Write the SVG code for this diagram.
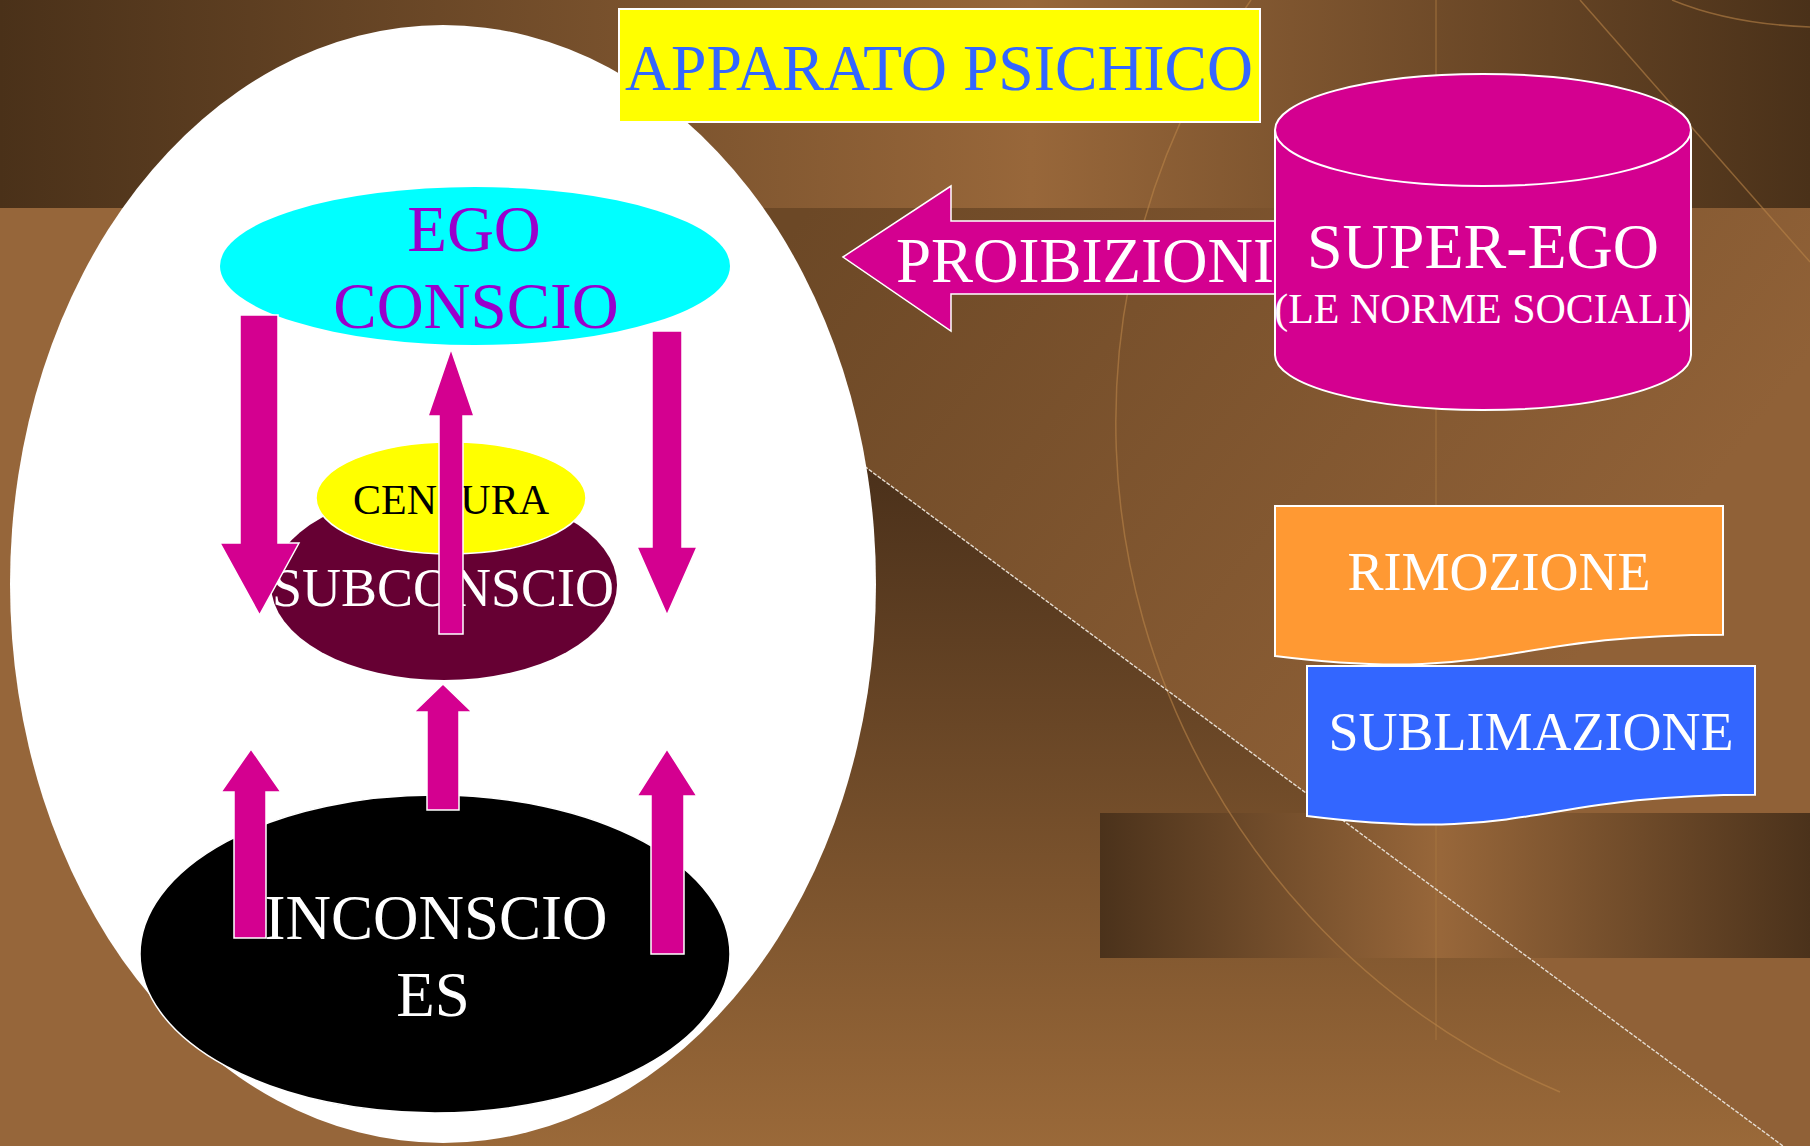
<svg xmlns="http://www.w3.org/2000/svg" width="1810" height="1146" viewBox="0 0 1810 1146">
<defs>
<linearGradient id="bandGrad" gradientUnits="userSpaceOnUse" x1="0" y1="0" x2="1810" y2="0">
<stop offset="0" stop-color="#4A3119"/><stop offset="0.57" stop-color="#98673A"/><stop offset="1" stop-color="#4A3119"/>
</linearGradient>
<linearGradient id="lowGrad" gradientUnits="userSpaceOnUse" x1="800" y1="220" x2="1500" y2="760">
<stop offset="0" stop-color="#6C4826"/><stop offset="1" stop-color="#906137"/>
</linearGradient>
<linearGradient id="triGrad" gradientUnits="userSpaceOnUse" x1="0" y1="460" x2="0" y2="1146">
<stop offset="0" stop-color="#4A301A"/><stop offset="1" stop-color="#9A6939"/>
</linearGradient>
<linearGradient id="rectGrad" gradientUnits="userSpaceOnUse" x1="1100" y1="0" x2="1810" y2="0">
<stop offset="0" stop-color="#4B321B"/><stop offset="0.48" stop-color="#98673A"/><stop offset="1" stop-color="#4B321B"/>
</linearGradient>
</defs>
<style>
.t{font-family:"Liberation Serif","Times New Roman",serif;text-anchor:middle}
.arrow{fill:#D40090;stroke:#FFFFFF;stroke-width:1.5}
.deco{fill:none;stroke:#B98348;stroke-width:1.5;opacity:0.6}
</style>

<!-- background -->
<g id="background">
<rect x="0" y="0" width="1810" height="1146" fill="#96663A"/>
<rect x="0" y="0" width="1810" height="208" fill="url(#bandGrad)"/>
<polygon points="443,208 1810,208 1810,1146 443,1146" fill="url(#lowGrad)"/>
<polygon points="650,308 1783,1146 443,1146 443,308" fill="url(#triGrad)"/>
<rect x="1100" y="813" width="710" height="145" fill="url(#rectGrad)"/>
<line x1="1436" y1="0" x2="1436" y2="1040" stroke="#A8763F" stroke-width="2" opacity="0.45"/>
<path class="deco" d="M1251,0 A727,727 0 0 0 1560,1092"/>
<path class="deco" d="M1672,0 Q1730,24 1810,27"/>
<line class="deco" x1="1580" y1="0" x2="1810" y2="262"/>
<line x1="860" y1="463" x2="1783" y2="1146" stroke="#E6DDD2" stroke-width="1.4" stroke-dasharray="4 1.5"/>
</g>

<g id="apparato">
<ellipse cx="443" cy="584" rx="433" ry="559" fill="#FFFFFF"/>
</g>

<g id="ego">
<ellipse cx="475" cy="266" rx="255" ry="79" fill="#00FFFF"/>
<text class="t" x="474" y="251" font-size="65" fill="#9900CC">EGO</text>
<text class="t" x="476" y="328" font-size="65" fill="#9900CC">CONSCIO</text>
</g>

<g id="subconscio">
<ellipse cx="444" cy="585" rx="173" ry="95" fill="#660033"/>
<text class="t" x="443" y="606" font-size="54" fill="#FFFFFF">SUBCONSCIO</text>
</g>

<g id="censura">
<ellipse cx="451" cy="498" rx="135" ry="56" fill="#FFFF00" stroke="#FFFFFF" stroke-width="1.5"/>
<text class="t" x="451" y="514" font-size="42" fill="#000000">CENSURA</text>
</g>

<g id="inconscio">
<ellipse cx="435" cy="954" rx="295" ry="159" fill="#000000" stroke="#FFFFFF" stroke-width="1.5"/>
<text class="t" x="436" y="939" font-size="63" fill="#FFFFFF">INCONSCIO</text>
<text class="t" x="433" y="1016" font-size="63" fill="#FFFFFF">ES</text>
</g>

<g id="connectors">
<path class="arrow" d="M240,315 H278 V543 H299 L259.5,615 L220,543 H240 Z"/>
<path class="arrow" d="M652,331 H682 V547 H697 L667,615 L637,547 H652 Z"/>
<path class="arrow" d="M451,349 L474,416 H463 V634 H439 V416 H428 Z"/>
<path class="arrow" d="M443,684 L472,712 H459 V810 H427 V712 H414 Z"/>
<path class="arrow" d="M251,749 L281,792 H266 V938 H234 V792 H221 Z"/>
<path class="arrow" d="M667,749 L697,796 H684 V954 H651 V796 H637 Z"/>
<g id="proibizioni">
<path class="arrow" d="M843,257 L951,186 V221 H1280 V294 H951 V331 Z" stroke-width="2"/>
<text x="896" y="282" font-size="63" fill="#FFFFFF" font-family="Liberation Serif, Times New Roman, serif">PROIBIZIONI</text>
</g>
</g>

<g id="titolo">
<rect x="619" y="9" width="641" height="113" fill="#FFFF00" stroke="#FFFFFF" stroke-width="2"/>
<text class="t" x="939" y="90" font-size="66" fill="#3366FF" textLength="628" lengthAdjust="spacingAndGlyphs">APPARATO PSICHICO</text>
</g>

<g id="superego">
<path d="M1275,130 A208,56 0 0 1 1691,130 V355 A208,55 0 0 1 1275,355 Z" fill="#D40090" stroke="#FFFFFF" stroke-width="2"/>
<path d="M1275,130 A208,56 0 0 0 1691,130" fill="none" stroke="#FFFFFF" stroke-width="2"/>
<text class="t" x="1483" y="268" font-size="64" fill="#FFFFFF">SUPER-EGO</text>
<text class="t" x="1483" y="323" font-size="42" fill="#FFFFFF">(LE NORME SOCIALI)</text>
</g>

<g id="rimozione">
<path d="M1275,506 H1723 V634.8 C1499,634.8 1499,683.9 1275,656 Z" fill="#FF9933" stroke="#FFFFFF" stroke-width="2"/>
<text class="t" x="1499" y="590" font-size="54" fill="#FFFFFF">RIMOZIONE</text>
</g>

<g id="sublimazione">
<path d="M1307,666 H1755 V794.8 C1531,794.8 1531,843.9 1307,816 Z" fill="#3366FF" stroke="#FFFFFF" stroke-width="2"/>
<text class="t" x="1531" y="750" font-size="54" fill="#FFFFFF">SUBLIMAZIONE</text>
</g>
</svg>
